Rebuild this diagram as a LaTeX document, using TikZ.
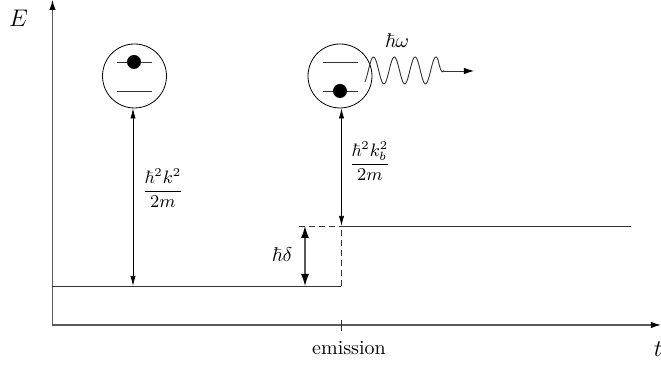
\documentclass[tikz,border=0pt]{standalone}
\usepackage{amsmath}
\usepackage{amssymb}
\usetikzlibrary{arrows.meta}
\usetikzlibrary{positioning}
\tikzset{
	axisline/.style={draw=black!65,line width=0.6pt,-{Latex[black,length=5pt,width=3.2pt]}},
	level/.style={draw=black!80,line width=0.45pt},
	gap/.style={line width=0.35pt,{Latex[length=5pt,width=2.6pt]}-{Latex[length=5pt,width=2.6pt]}},
	atom/.style={circle,draw,line width=0.4pt,minimum size=32pt,inner sep=0pt},
	electron/.style={circle,fill=black,minimum size=7pt,inner sep=0pt},
	fraction/.style={font=\small}
}
\begin{document}
\begin{tikzpicture}[x=0.5pt,y=0.5pt]
	\useasboundingbox (0,0) rectangle (661,367);

	% axes
	\coordinate (origin) at (52.5,42);
	\coordinate (Etop) at (52.5,367);
	\coordinate (tend) at (661,42);
	\draw[axisline] (origin) -- (Etop);
	\draw[axisline] (origin) -- (tend);
	\node[font=\large] at (18.5,349) (Elabel) {$E$};
	\node[font=\large] at (658,18) (tlabel) {$t$};

	% tick
	\coordinate (ticktop) at (341,47);
	\coordinate (tickbot) at (341,36);
	\draw[level] (ticktop) -- (tickbot);
	\node at (349,19) (emission) {emission};

	% energy levels
	\coordinate (lowstart) at (52.5,81);
	\coordinate (lowend) at (341,81);
	\coordinate (highleft) at (299,141);
	\coordinate (highmid) at (341,141);
	\coordinate (highend) at (631,141);
	\draw[level] (lowstart) -- (lowend);
	\draw[level] (highmid) -- (highend);
	\draw[level,dash pattern=on 3pt off 2pt] (lowend) -- (highmid);
	\draw[level,dash pattern=on 3pt off 2pt] (highleft) -- (highmid);

	% atoms
	\node[atom] at (134.5,291) (atomA) {};
	\node[atom] at (340,291) (atomB) {};
	\coordinate (Aup1) at (117,305);
	\coordinate (Aup2) at (152,305);
	\coordinate (Adn1) at (117,276);
	\coordinate (Adn2) at (152,276);
	\draw[level] (Aup1) -- (Aup2);
	\draw[level] (Adn1) -- (Adn2);
	\node[electron] at (134,305) (eA) {};
	\coordinate (Bup1) at (323,305);
	\coordinate (Bup2) at (358,305);
	\coordinate (Bdn1) at (323,276);
	\coordinate (Bdn2) at (358,276);
	\draw[level] (Bup1) -- (Bup2);
	\draw[level] (Bdn1) -- (Bdn2);
	\node[electron] at (340,276) (eB) {};

	% kinetic energy arrows
	\coordinate (Afoot) at (133,81);
	\coordinate (Bfoot) at (341.5,141);
	\draw[gap] (Afoot) -- (Afoot |- atomA.south);
	\draw[gap] (Bfoot) -- (Bfoot |- atomB.south);
	\node[fraction] at (163,179) (kA) {$\dfrac{\hbar^2 k^2}{2m}$};
	\node[fraction] at (370,206) (kB) {$\dfrac{\hbar^2 k_b^2}{2m}$};

	% detuning
	\coordinate (dtop) at (305,141);
	\coordinate (dbot) at (305,81);
	\draw[draw=black!65,line width=0.6pt,{Latex[black,length=6pt,width=4pt]}-{Latex[black,length=6pt,width=4pt]}] (dtop) -- (dbot);
	\node at (282,112) (delta) {$\hbar\delta$};

	% photon
	\coordinate (waveend) at (444,296);
	\coordinate (photontip) at (474,296);
	\draw[level,smooth,samples=90,domain=365:444]
		plot (\x,{296.5+13.5*cos((\x-373.5)/20.8*360)*min(1,(444-\x)/6)});
	\draw[level,-{Latex[black,length=5pt,width=3.2pt]}] (waveend) -- (photontip);
	\node at (397,326) (photon) {$\hbar\omega$};
\end{tikzpicture}
\end{document}
